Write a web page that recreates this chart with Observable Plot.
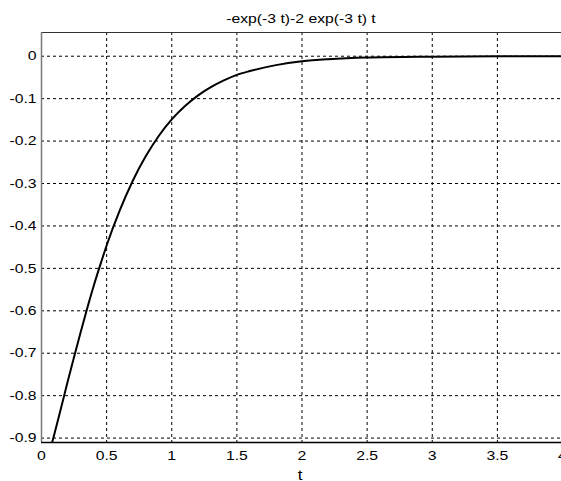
<!DOCTYPE html>
<html>
<head>
<meta charset="utf-8">
<script src="https://cdn.jsdelivr.net/npm/d3@7"></script>
<script src="https://cdn.jsdelivr.net/npm/@observablehq/plot@0.6"></script>
<style>
  html, body { margin: 0; padding: 0; background: #fff; overflow: hidden; }
</style>
</head>
<body>
<div id="chart"></div>
<script>
const titleText = "-exp(-3 t)-2 exp(-3 t) t";
const xLabel = "t";
const tValues = [0.08, 0.1, 0.15, 0.2, 0.25, 0.3, 0.35, 0.4, 0.45, 0.5, 0.6, 0.7, 0.8, 0.9, 1.0, 1.1, 1.2, 1.3, 1.4, 1.5, 1.6, 1.8, 2.0, 2.2, 2.5, 3.0, 3.5, 4.0];
const yValues = [-0.912, -0.889, -0.829, -0.768, -0.709, -0.651, -0.595, -0.542, -0.493, -0.446, -0.364, -0.294, -0.236, -0.188, -0.149, -0.118, -0.093, -0.073, -0.057, -0.044, -0.035, -0.021, -0.012, -0.007, -0.003, -0.001, -0.0002, 0];
const xTicks = [0, 0.5, 1, 1.5, 2, 2.5, 3, 3.5, 4];
const xTickLabels = ["0", "0.5", "1", "1.5", "2", "2.5", "3", "3.5", "4"];
const yTicks = [0, -0.1, -0.2, -0.3, -0.4, -0.5, -0.6, -0.7, -0.8, -0.9];
const yTickLabels = ["0", "-0.1", "-0.2", "-0.3", "-0.4", "-0.5", "-0.6", "-0.7", "-0.8", "-0.9"];
const xDomain = [0, 4];
const yDomain = [-0.9104, 0.0559];

const data = tValues.map((t, i) => ({t, y: yValues[i]}));
const font = "'Liberation Sans', Arial, sans-serif";

const chart = Plot.plot({
  width: 561,
  height: 481,
  marginLeft: 41,
  marginRight: -1,
  marginTop: 32,
  marginBottom: 39,
  style: {fontFamily: font, fontSize: "13px", color: "#000", background: "#fff"},
  x: {domain: xDomain, label: null},
  y: {domain: yDomain, label: null},
  marks: [
    Plot.ruleX(xTicks, {stroke: "#000", strokeWidth: 1, strokeDasharray: "3,3"}),
    Plot.ruleY(yTicks, {stroke: "#000", strokeWidth: 1, strokeDasharray: "3,3"}),
    Plot.axisX({ticks: xTicks, tickFormat: (d) => xTickLabels[xTicks.indexOf(d)], tickSize: 0, tickPadding: 8, fontSize: 13, label: null}),
    Plot.axisY({ticks: yTicks, tickFormat: (d) => yTickLabels[yTicks.indexOf(d)], tickSize: 0, tickPadding: 5, fontSize: 13, label: null}),
    Plot.line(data, {x: "t", y: "y", stroke: "#000", strokeWidth: 2, curve: "monotone-x", clip: true}),
    Plot.ruleY([yDomain[1]], {stroke: "#333", strokeWidth: 1.2}),
    Plot.ruleX([xDomain[0]], {stroke: "#777", strokeWidth: 1.5}),
    Plot.ruleY([yDomain[0]], {stroke: "#000", strokeWidth: 1.5}),
    Plot.text([titleText], {frameAnchor: "top", lineAnchor: "bottom", dy: -10, dx: -1, text: d => d, fontSize: 13, fill: "#000"}),
    Plot.text([xLabel], {frameAnchor: "bottom", lineAnchor: "bottom", dy: 37, dx: -2, text: d => d, fontSize: 14, fill: "#000"})
  ]
});
document.getElementById("chart").appendChild(chart);
// the reference's lettering is horizontally wider than Liberation Sans: stretch each label
d3.select(chart).selectAll("text").each(function() {
  const len = this.getComputedTextLength();
  if (len > 0) {
    this.setAttribute("textLength", (len * 1.21).toFixed(1));
    this.setAttribute("lengthAdjust", "spacingAndGlyphs");
  }
});
</script>
</body>
</html>
